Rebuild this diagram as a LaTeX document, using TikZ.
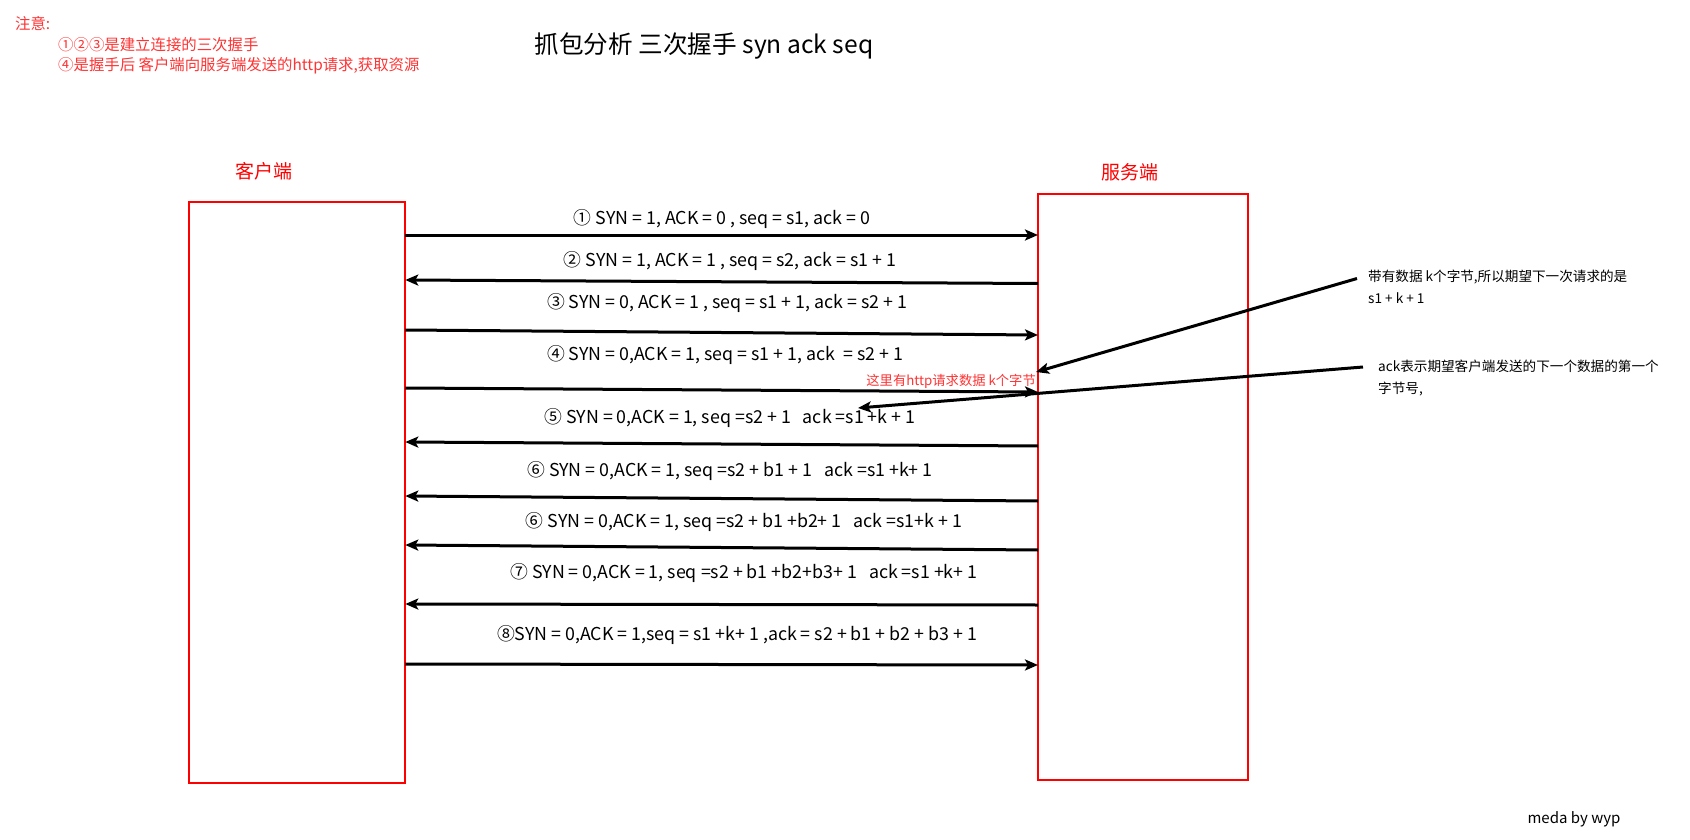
\documentclass[tikz,border=0pt]{standalone}
\usepackage{fontspec}
\setmainfont{Noto Sans CJK SC}
\usetikzlibrary{arrows.meta}
\usetikzlibrary{positioning}
\usetikzlibrary{calc}
\definecolor{rougenote}{HTML}{FF3333}

\begin{document}
\begin{tikzpicture}[x=1pt,y=-1pt]
% les styles
\tikzstyle boite=[draw=red,line width=2pt,inner sep=0pt,outer sep=0pt,anchor=north west]
\tikzstyle fleche=[line width=3pt,-{Stealth[length=13pt,width=11pt,inset=3pt]}]
\tikzstyle message=[inner sep=0pt,font=\fontsize{17.8}{21}\selectfont]
\tikzstyle titrerouge=[text=red,inner sep=0pt,font=\fontsize{19}{22}\selectfont]
\tikzstyle noterouge=[text=rougenote,inner sep=0pt,anchor=west,font=\fontsize{15.4}{18}\selectfont]
\tikzstyle remarque=[inner sep=0pt,anchor=north west,align=left,font=\fontsize{13.6}{22}\selectfont]

\useasboundingbox (0,0) rectangle (1690,840);

% le titre et les notes
\node[inner sep=0pt,font=\fontsize{24.6}{28}\selectfont] (titre) at (704,46) {抓包分析 三次握手 syn ack seq};
\node[noterouge] (attention) at (15,24) {注意:};
\node[noterouge] (note1) at (58,45) {①②③是建立连接的三次握手};
\node[noterouge] (note2) at (58,66) {④是握手后 客户端向服务端发送的http请求,获取资源};

% les deux boites
\node[boite,minimum width=216.7pt,minimum height=581pt] (client) at (188.6,201.5) {};
\node[boite,minimum width=210pt,minimum height=586pt] (serveur) at (1038,194) {};
\node[titrerouge] (nomclient) at (264,171) {客户端};
\node[titrerouge] (nomserveur) at (1129.5,172) {服务端};

% les messages
\foreach \ya/\yb/\na/\nb/\xt/\yt/\txt [count=\i] in {
  235/235/client.east/serveur.west/722/219/{① SYN = 1, ACK = 0 , seq = s1, ack = 0},
  283.5/280/serveur.west/client.east/730/261/{② SYN = 1, ACK = 1 , seq = s2, ack = s1 + 1},
  330/335/client.east/serveur.west/727/303/{③ SYN = 0, ACK = 1 , seq = s1 + 1, ack = s2 + 1},
  388/392/client.east/serveur.west/725/355/{④ SYN = 0,ACK = 1, seq = s1 + 1, ack~~= s2 + 1},
  446/442/serveur.west/client.east/730/418/{⑤ SYN = 0,ACK = 1, seq =s2 + 1~~~ack =s1 +k + 1},
  501/496/serveur.west/client.east/730/471/{⑥ SYN = 0,ACK = 1, seq =s2 + b1 + 1~~~ack =s1 +k+ 1},
  550/545/serveur.west/client.east/744/522/{⑥ SYN = 0,ACK = 1, seq =s2 + b1 +b2+ 1~~~ack =s1+k + 1},
  605/604/serveur.west/client.east/744/573/{⑦ SYN = 0,ACK = 1, seq =s2 + b1 +b2+b3+ 1~~~ack =s1 +k+ 1},
  664/665/client.east/serveur.west/737/635/{⑧SYN = 0,ACK = 1,seq = s1 +k+ 1 ,ack = s2 + b1 + b2 + b3 + 1}}{
  \draw[fleche] (\na |- 0,\ya) -- (\nb |- 0,\yb);
  \node[message] (msg\i) at (\xt,\yt) {\txt};
}
\node[text=rougenote,inner sep=0pt,anchor=east,font=\fontsize{13.3}{16}\selectfont] (donnees) at (1036,381) {这里有http请求数据 k个字节};

% les remarques de droite
\node[remarque] (remarqueA) at (1368,269.5) {带有数据 k个字节,所以期望下一次请求的是\\s1 + k + 1};
\node[remarque] (remarqueB) at (1378,360) {ack表示期望客户端发送的下一个数据的第一个\\字节号,};
\coordinate (pointeA) at (1036,372);
\coordinate (pointeB) at (858,408);
\draw[fleche] ($(remarqueA.north west)+(-11,9)$) -- (pointeA);
\draw[fleche] ($(remarqueB.north west)+(-15,7)$) -- (pointeB);

\node[inner sep=0pt,font=\fontsize{15}{18}\selectfont] (signature) at (1574,819) {meda by wyp};
\end{tikzpicture}
\end{document}
